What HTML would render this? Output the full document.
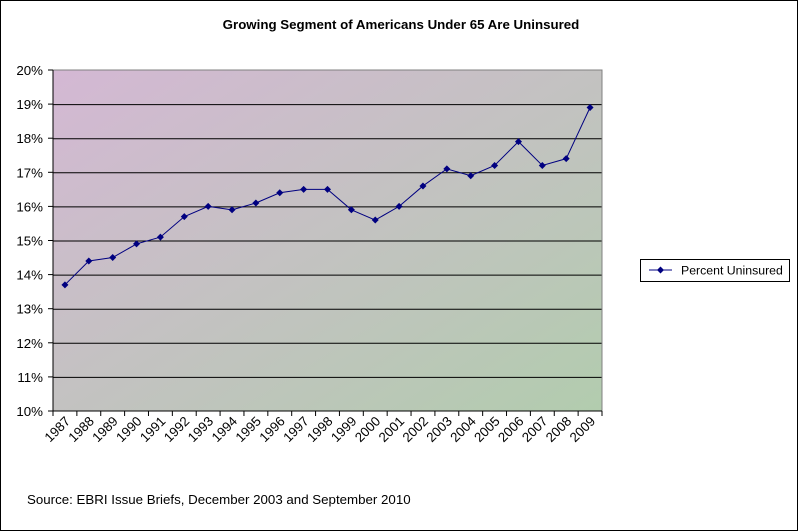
<!DOCTYPE html>
<html><head><style>body{margin:0;background:#fff}svg{display:block}</style></head><body>
<svg width="799" height="532" xmlns="http://www.w3.org/2000/svg" font-family="Liberation Sans, Arial, sans-serif">
<defs><linearGradient id="g" x1="0" y1="0" x2="1" y2="1">
<stop offset="0" stop-color="#d4b8d4"/><stop offset="1" stop-color="#b2ccae"/></linearGradient></defs>
<rect x="0.5" y="0.5" width="797" height="530" fill="#fff" stroke="#000"/>
<text x="401" y="29" text-anchor="middle" font-size="13.3" font-weight="bold">Growing Segment of Americans Under 65 Are Uninsured</text>
<rect x="53" y="70" width="549" height="341" fill="url(#g)"/>
<g stroke="#000" stroke-width="1">
<line x1="53" y1="104.6" x2="602" y2="104.6"/><line x1="53" y1="138.7" x2="602" y2="138.7"/>
<line x1="53" y1="172.8" x2="602" y2="172.8"/><line x1="53" y1="206.9" x2="602" y2="206.9"/>
<line x1="53" y1="241" x2="602" y2="241"/><line x1="53" y1="275.1" x2="602" y2="275.1"/>
<line x1="53" y1="309.2" x2="602" y2="309.2"/><line x1="53" y1="343.3" x2="602" y2="343.3"/>
<line x1="53" y1="377.4" x2="602" y2="377.4"/>
</g>
<rect x="53" y="70" width="549" height="341" fill="none" stroke="#808080"/>
<line x1="53" y1="70" x2="53" y2="411" stroke="#000"/>
<line x1="53" y1="411" x2="602" y2="411" stroke="#000"/>
<g id="yt" font-size="13.3" text-anchor="end"></g>
<g id="xt" font-size="13.3"></g>
<polyline id="ln" fill="none" stroke="#000080" stroke-width="1"/>
<g id="mk" fill="#000080"></g>
<rect x="640.5" y="259.5" width="149" height="22" fill="#fff" stroke="#000"/>
<line x1="649" y1="270" x2="672" y2="270" stroke="#000080"/>
<path d="M660.5 266.5 L664 270 L660.5 273.5 L657 270Z" fill="#000080"/>
<text x="681" y="274.5" font-size="12.3">Percent Uninsured</text>
<text x="27" y="504" font-size="13.3">Source: EBRI Issue Briefs, December 2003 and September 2010</text>
</svg>
<script>
var d=[13.7,14.4,14.5,14.9,15.1,15.7,16.0,15.9,16.1,16.4,16.5,16.5,15.9,15.6,16.0,16.6,17.1,16.9,17.2,17.9,17.2,17.4,18.9];
var ns="http://www.w3.org/2000/svg";
function Y(v){return 411-(v-10)*34.1;}
var yt=document.getElementById('yt');
for(var v=10;v<=20;v++){var y=Y(v);
 var l=document.createElementNS(ns,'line');l.setAttribute('x1',48);l.setAttribute('x2',53);l.setAttribute('y1',y);l.setAttribute('y2',y);l.setAttribute('stroke','#000');yt.appendChild(l);
 var t=document.createElementNS(ns,'text');t.setAttribute('x',43);t.setAttribute('y',y+5);t.textContent=v+'%';yt.appendChild(t);}
var xt=document.getElementById('xt'),pts=[],mk=document.getElementById('mk'),w=549/23;
for(var i=0;i<=23;i++){var x=53+i*w;var l=document.createElementNS(ns,'line');l.setAttribute('x1',x);l.setAttribute('x2',x);l.setAttribute('y1',411);l.setAttribute('y2',416);l.setAttribute('stroke','#000');xt.appendChild(l);}
for(var i=0;i<23;i++){var cx=53+w*(i+0.5),cy=Y(d[i]);pts.push(cx+','+cy);
 var p=document.createElementNS(ns,'path');p.setAttribute('d','M'+cx+' '+(cy-3.5)+'L'+(cx+3.5)+' '+cy+'L'+cx+' '+(cy+3.5)+'L'+(cx-3.5)+' '+cy+'Z');mk.appendChild(p);
 var t=document.createElementNS(ns,'text');t.setAttribute('text-anchor','end');t.setAttribute('transform','translate('+(cx+6)+',422) rotate(-45)');t.textContent=1987+i;xt.appendChild(t);}
document.getElementById('ln').setAttribute('points',pts.join(' '));
</script>
</body></html>
